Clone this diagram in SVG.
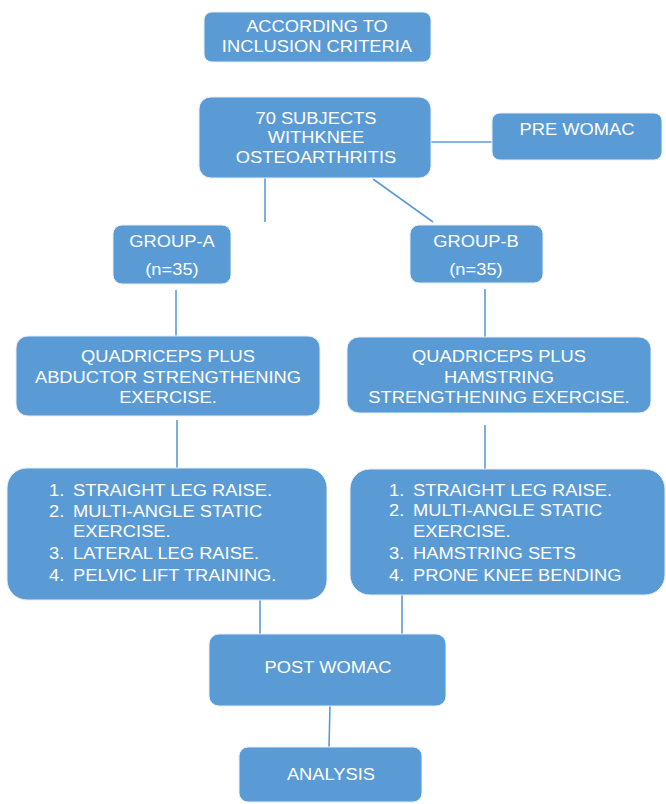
<svg xmlns="http://www.w3.org/2000/svg" width="666" height="804" viewBox="0 0 666 804">
<style>
.box{fill:#5B9BD5;stroke:#E6EEF7;stroke-width:1}
.t{font-family:"Liberation Sans",Arial,sans-serif;font-size:16.5px;fill:#FFFFFF;text-anchor:middle;transform-box:fill-box;transform-origin:center;transform:scaleX(1.11)}
.l{text-anchor:start;transform-origin:left center}
.c line{stroke:#5B9BD5;stroke-width:1.6}
</style>
<rect width="666" height="804" fill="#FFFFFF"/>
<g class="c" id="connectors">
<line x1="431" y1="142" x2="492" y2="142"/>
<line x1="265" y1="178" x2="265" y2="222"/>
<line x1="373" y1="179" x2="433" y2="222"/>
<line x1="176" y1="290" x2="176" y2="336"/>
<line x1="485" y1="289" x2="485" y2="337"/>
<line x1="177" y1="420" x2="177" y2="468"/>
<line x1="485" y1="425" x2="485" y2="469"/>
<line x1="260" y1="600" x2="260" y2="634"/>
<line x1="402" y1="595" x2="402" y2="634"/>
<line x1="330" y1="706" x2="329" y2="747"/>
</g>
<g id="inclusion">
<rect class="box" x="204" y="12" width="227" height="50" rx="8"/>
<text class="t" x="317" y="32">ACCORDING TO</text>
<text class="t" x="317" y="52">INCLUSION CRITERIA</text>
</g>
<g id="subjects">
<rect class="box" x="199" y="97" width="232" height="81" rx="12"/>
<text class="t" x="316" y="124">70 SUBJECTS</text>
<text class="t" x="316" y="143">WITHKNEE</text>
<text class="t" x="316" y="163">OSTEOARTHRITIS</text>
</g>
<g id="pre-womac">
<rect class="box" x="492" y="113" width="170" height="47" rx="8"/>
<text class="t" x="577" y="135">PRE WOMAC</text>
</g>
<g id="group-a">
<rect class="box" x="113" y="225" width="118" height="59" rx="9"/>
<text class="t" x="172" y="247">GROUP-A</text>
<text class="t" x="172" y="275">(n=35)</text>
</g>
<g id="group-b">
<rect class="box" x="410" y="225" width="133" height="58" rx="9"/>
<text class="t" x="476" y="247">GROUP-B</text>
<text class="t" x="476" y="275">(n=35)</text>
</g>
<g id="exercise-a">
<rect class="box" x="16" y="336" width="304" height="80" rx="12"/>
<text class="t" x="168" y="362">QUADRICEPS PLUS</text>
<text class="t" x="168" y="383">ABDUCTOR STRENGTHENING</text>
<text class="t" x="168" y="403">EXERCISE.</text>
</g>
<g id="exercise-b">
<rect class="box" x="347" y="337" width="304" height="76" rx="12"/>
<text class="t" x="499" y="362">QUADRICEPS PLUS</text>
<text class="t" x="499" y="383">HAMSTRING</text>
<text class="t" x="499" y="403">STRENGTHENING EXERCISE.</text>
</g>
<g id="list-a">
<rect class="box" x="7" y="468" width="320" height="132" rx="20"/>
<text class="t l" x="49" y="496">1.</text><text class="t l" x="73" y="496">STRAIGHT LEG RAISE.</text>
<text class="t l" x="49" y="517">2.</text><text class="t l" x="73" y="517">MULTI-ANGLE STATIC</text>
<text class="t l" x="73" y="537">EXERCISE.</text>
<text class="t l" x="49" y="559">3.</text><text class="t l" x="73" y="559">LATERAL LEG RAISE.</text>
<text class="t l" x="49" y="581">4.</text><text class="t l" x="73" y="581">PELVIC LIFT TRAINING.</text>
</g>
<g id="list-b">
<rect class="box" x="350" y="469" width="315" height="126" rx="20"/>
<text class="t l" x="389" y="496">1.</text><text class="t l" x="413" y="496">STRAIGHT LEG RAISE.</text>
<text class="t l" x="389" y="516">2.</text><text class="t l" x="413" y="516">MULTI-ANGLE STATIC</text>
<text class="t l" x="413" y="537">EXERCISE.</text>
<text class="t l" x="389" y="559">3.</text><text class="t l" x="413" y="559">HAMSTRING SETS</text>
<text class="t l" x="389" y="581">4.</text><text class="t l" x="413" y="581">PRONE KNEE BENDING</text>
</g>
<g id="post-womac">
<rect class="box" x="209" y="634" width="237" height="72" rx="10"/>
<text class="t" x="328" y="673">POST WOMAC</text>
</g>
<g id="analysis">
<rect class="box" x="239" y="747" width="183" height="55" rx="9"/>
<text class="t" x="331" y="780">ANALYSIS</text>
</g>
</svg>
